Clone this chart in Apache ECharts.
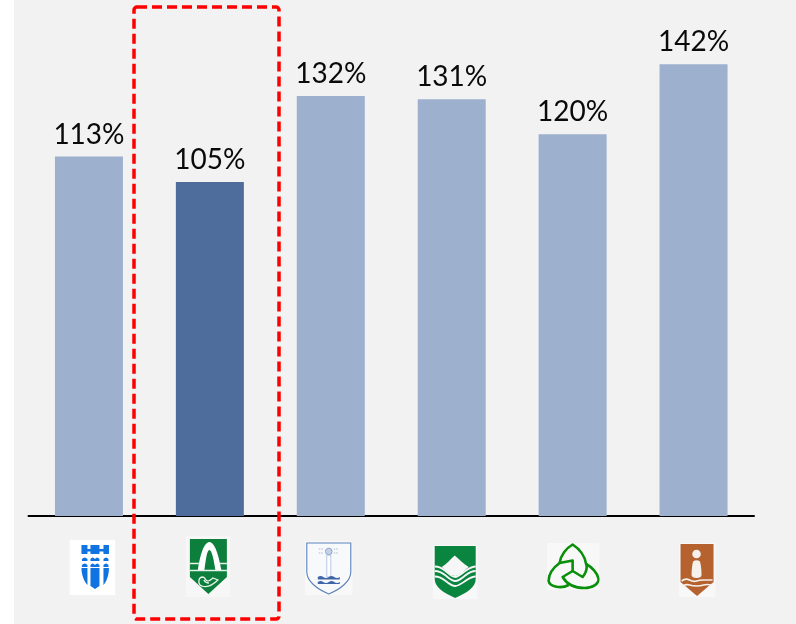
<!DOCTYPE html>
<html><head><meta charset="utf-8">
<style>html,body{margin:0;padding:0;background:#fff}#c{width:796px;height:624px}</style>
<script src="https://cdn.jsdelivr.net/npm/echarts@6/dist/echarts.min.js"></script>
</head><body><div id="c"></div>
<script>
const categories = ['Municipality 1','Municipality 2','Municipality 3','Municipality 4','Municipality 5','Municipality 6'];
const values = [113,105,132,131,120,142];
const highlighted = 'Municipality 2';

const svg = (w,h,bg,body)=>'data:image/svg+xml;charset=utf-8,'+encodeURIComponent(
 `<svg xmlns="http://www.w3.org/2000/svg" width="${w}" height="${h}" viewBox="0 0 ${w} ${h}"><rect width="${w}" height="${h}" fill="${bg}"/>${body}</svg>`);

const logoBlue = svg(46,55,'#ffffff',`
 <g fill="#0f74e2">
 <path d="M12 5h6v4h3V5h9v4h4V5h5.500v9H34v-2.500h-4V14h-9v-2.500h-3V14h-6z"/>
 <path d="M12 28h6v17c-3-3-6-10-6-17zM21 28h9v18l-4.500 3-4.500-3zM34 28h5.500c0 7-2.500 14-5.500 17z"/>
 <path d="M12.500 19q2.800-3 5.500 0v2h-5.500zM21 19q2.200-3 4.500 0q2.200-3 4.500 0v2h-9zM34 19q2.700-3 5 0v2h-5z"/>
 <path d="M12.500 25q2.800-3 5.500 0v2h-5.500zM21 25q2.200-3 4.500 0q2.200-3 4.500 0v2h-9zM34 25q2.700-3 5 0v2h-5z"/>
 </g>`);
const logoArch = svg(44,61,'#f7f7f7',`
 <path d="M4 3h37v38L22.500 58 4 41z" fill="#0b7f3b"/>
 <path d="M12 34C14 20 18 6 23.500 6S33 20 35.500 34h-6C28 24 26 14 23.500 14S20 24 18.500 34z" fill="#fff"/>
 <path d="M4 27.500h9M34 27.500h7M4 34.500h37" stroke="#e8f3ec" stroke-width="1.400" fill="none"/>
 <g fill="none" stroke="#e8f3ec" stroke-width="1.300"><path d="M16 41c-4 1-4 8 0 9 6 2 11-1 16-6l-5-2c-2 2-5 4-7 2s0-3-4-3z"/><path d="M18 44c1 2 3 3 5 3"/></g>`);
const logoLight = svg(48,54,'#f8f8f8',`
 <path d="M2 2h44v29c0 9-10 17-22 22C12 48 2 40 2 31z" fill="#f8f9fb" stroke="#5b82bd" stroke-width="1.100"/>
 <path d="M22 14h4v22h-4z" fill="#fff" stroke="#b9c9e2" stroke-width="1"/>
 <circle cx="24" cy="10.500" r="3.300" fill="#c6d2e6" stroke="#8da6cd"/>
 <path d="M14 8h5M14 12h5M29 8h5M29 12h5" stroke="#a8bcdb" stroke-width="1" stroke-dasharray="1.500 1"/>
 <path d="M13 36q2.800-2 5.500 0t5.500 0t5.500 0t5.500 0v2.500H13zM13 41q2.800-2 5.500 0t5.500 0t5.500 0t5.500 0v2H13z" fill="#3f66a8"/>`);
const logoWave = svg(45,54,'#f8f8f8',`
 <path d="M2 1h41v33c0 8-9 14-20.500 19C11 48 2 42 2 34z" fill="#0a8540"/>
 <path d="M9 22C14 19 18 14 22 10.500 26 14 31 19 36 22 31 26 27 31 22.500 31S14 26 9 22z" fill="#f6f6f6"/>
 <g fill="none" stroke="#f6f6f6" stroke-linecap="butt">
 <path d="M2 21.500c5 0 8 2 11 4.500s6 6 9.500 6 7-4 10-6 6-4.500 10.500-4.500" stroke-width="1.800"/>
 <path d="M2 26c5 0 8 2 11 4.500s6 5.500 9.500 5.500 7-3 10-5.500 6-4.500 10.500-4.500" stroke-width="1.800"/>
 <path d="M2 31.500c5 0 8 2 11 4.500s6 5 9.500 5 7-3 10-5 6-4.500 10.500-4.500" stroke-width="1.800"/>
 </g>`);
const logoKnot = svg(53,47,'#f8f8f8',`
 <g fill="none" stroke="#0a8f0a" stroke-width="2.600" stroke-linejoin="round">
 <path d="M13 20C14 12 20 5 26 1.500 33 6 38 12 39.500 21 41 25 39 30 36 34L26 28V17.500L13 20"/>
 <path d="M13 20C6 25 2 32 2 38 3 44 15 46 22 42"/>
 <path d="M26 28L16 34C20 41 28 45 38 45 46 45 52 41 52 36 51 30 45 24 39.500 21"/>
 </g>`);
const logoBrown = svg(37,54,'#f8f8f8',`
 <path d="M2 1h33v38L18.500 53 2 39z" fill="#b5622e"/>
 <circle cx="18" cy="11" r="4.300" fill="#f5f1ec"/>
 <path d="M13 32c0-6 1-13 2-14 2-1 4-1 6 0 1 1 2 8 2 14 0 2-2 3-5 3s-5-1-5-3z" fill="#f5f1ec"/>
 <path d="M3 38q4-3 8-1t7 1 7-1 9 0M4 43q4-2 7-1t7 1 7-1 8 0" fill="none" stroke="#f5f1ec" stroke-width="1.700"/>`);

const logos = [
 {img:logoBlue, w:46,h:55,dx:-19.500,y:540},
 {img:logoArch, w:44,h:61,dx:-24,y:536},
 {img:logoLight,w:48,h:54,dx:-26,y:541},
 {img:logoWave, w:45,h:54,dx:-19,y:545},
 {img:logoKnot, w:53,h:47,dx:-26,y:543},
 {img:logoBrown,w:37,h:54,dx:-15,y:543}
];

const chart = echarts.init(document.getElementById('c'),null,{renderer:'canvas'});
const option = {
 animation:false,
 backgroundColor:'#ffffff',
 grid:{left:28.5,right:42,top:7,bottom:108,containLabel:false},
 xAxis:{type:'category',data:categories,
  axisLine:{show:true,onZero:false,lineStyle:{color:'#000',width:2}},
  axisTick:{show:false},axisLabel:{show:false},splitLine:{show:false}},
 yAxis:{type:'value',min:0,max:160,show:false,splitLine:{show:false}},
 series:[{type:'bar',barWidth:68,
  data:values.map((v,i)=>({value:v,itemStyle:{color:categories[i]===highlighted?'#4e6d9c':'#9db0ce'}})),
  label:{show:true,position:'top',distance:8,formatter:p=>p.value+'%',
   fontFamily:'Lato',fontSize:28,color:'#0a0a0a'}}]
};
chart.setOption(option);
const graphics=[
 {type:'rect',z:-10,silent:true,shape:{x:14,y:0,width:782,height:624},style:{fill:'#f2f2f2'}}
];
logos.forEach((l,i)=>{
 const cx=chart.convertToPixel({xAxisIndex:0},categories[i]);
 graphics.push({type:'image',z:5,silent:true,style:{image:l.img,x:cx+l.dx,y:l.y,width:l.w,height:l.h}});
});
graphics.push({type:'rect',z:10,silent:true,shape:{x:134,y:7,width:145,height:612,r:3},
 style:{fill:'none',stroke:'#ff0000',lineWidth:3.5,lineDash:[10,5]}});
chart.setOption({graphic:graphics});
</script></body></html>
